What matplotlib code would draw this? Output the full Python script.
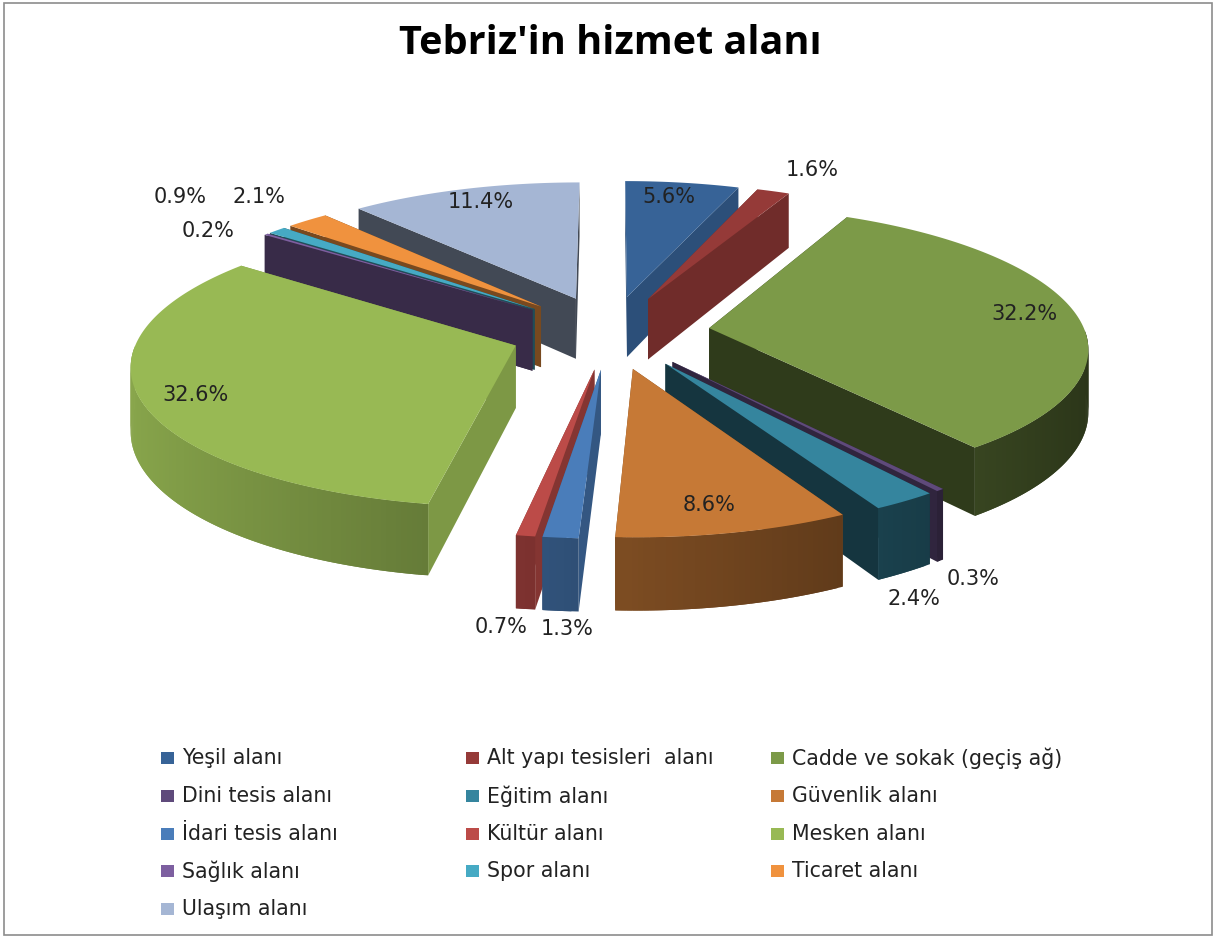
import numpy as np
import matplotlib
matplotlib.use('Agg')
import matplotlib.pyplot as plt
from matplotlib.patches import Polygon, Rectangle

# data
categories = ['Yeşil alanı', 'Alt yapı tesisleri  alanı', 'Cadde ve sokak (geçiş ağ)',
              'Dini tesis alanı', 'Eğitim alanı', 'Güvenlik alanı',
              'İdari tesis alanı', 'Kültür alanı', 'Mesken alanı',
              'Sağlık alanı', 'Spor alanı', 'Ticaret alanı', 'Ulaşım alanı']
values = [5.6, 1.6, 32.2, 0.3, 2.4, 8.6, 1.3, 0.7, 32.6, 0.2, 0.9, 2.1, 11.4]

colors = ['#376397', '#953A38', '#7C9A48', '#5F4A7B', '#35859E', '#C67936', '#4A7DBA',
          '#BC4B48', '#98B954', '#7D5FA0', '#46AAC4', '#F0923E', '#A5B6D4']
cut_shade = [0.8, 0.75, 0.38, 0.5, 0.4, 0.6, 0.7, 0.7, 0.82, 0.45, 0.45, 0.5, 0.4]
label_pos = [(669, 197), (812, 170), (1024, 314), (973, 579), (914, 599), (709, 505), (567, 629),
             (501, 627), (196, 395), (208, 231), (180, 197), (259, 197), (481, 202)]

# projection of the tilted pie
cx, cy = 610, 332
rx, ry = 376, 138
explode = 0.266
persp = 0.122
depth = 62


def project(u, v, down=0.0):
    w = 1 + persp * v
    return cx + rx * u / w, cy - ry * v / w + down * depth / w


def darker(color, f):
    return tuple(c * f for c in matplotlib.colors.to_rgb(color))


fig = plt.figure(figsize=(12.15, 9.38), dpi=100)
ax = fig.add_axes([0, 0, 1, 1])
ax.set_xlim(0, 1215)
ax.set_ylim(938, 0)
ax.axis('off')

ax.add_patch(Rectangle((4, 3), 1208, 932, fc='white', ec='#8c8c8c', lw=1.2, zorder=0))

fracs = np.array(values) / np.sum(values) * 2 * np.pi
ends = np.cumsum(fracs)
starts = ends - fracs
mids = (starts + ends) / 2
order = np.argsort(-np.cos(mids))

for rank, i in enumerate(order):
    z = 10 + rank
    a = np.linspace(starts[i], ends[i], max(int(fracs[i] * 80), 3))
    ou, ov = explode * np.sin(mids[i]), explode * np.cos(mids[i])
    us, vs = ou + np.sin(a), ov + np.cos(a)
    col = colors[i]

    # the two cut faces
    for ang in (starts[i], ends[i]):
        e_u, e_v = ou + np.sin(ang), ov + np.cos(ang)
        pts = [project(ou, ov), project(e_u, e_v), project(e_u, e_v, 1), project(ou, ov, 1)]
        ax.add_patch(Polygon(pts, fc=darker(col, cut_shade[i]), ec='none', zorder=z))

    # outer wall, shaded from left to right, segments overlap to hide seams
    for j in range(len(a) - 1):
        if np.cos(a[j]) > -0.02 and np.cos(a[j + 1]) > -0.02:
            continue
        k = min(j + 2, len(a) - 1)
        shade = 0.62 - 0.28 * np.sin((a[j] + a[j + 1]) / 2)
        pts = [project(us[j], vs[j]), project(us[k], vs[k]),
               project(us[k], vs[k], 1), project(us[j], vs[j], 1)]
        ax.add_patch(Polygon(pts, fc=darker(col, shade), ec='none', zorder=z))

    top = [project(ou, ov)] + [project(p, q) for p, q in zip(us, vs)]
    ax.add_patch(Polygon(top, fc=col, ec='none', zorder=z + 0.5))

for v, (x, y) in zip(values, label_pos):
    ax.text(x, y, f'{v}%', fontsize=15, color='#222222', ha='center', va='center', zorder=50)

ax.text(610, 43, "Tebriz'in hizmet alanı", fontsize=28.5, fontweight='bold', family='Open Sans',
        ha='center', va='center', color='black')

# legend, three columns
col_x = [161, 466, 771]
row_y = [758, 796, 834, 871, 909]
for k, name in enumerate(categories):
    x, y = col_x[k % 3], row_y[k // 3]
    ax.add_patch(Rectangle((x, y - 6), 13, 12, fc=colors[k], ec='none'))
    ax.text(x + 21, y, name, fontsize=14.8, color='#222222', ha='left', va='center')

fig.savefig('out.png', dpi=100)
